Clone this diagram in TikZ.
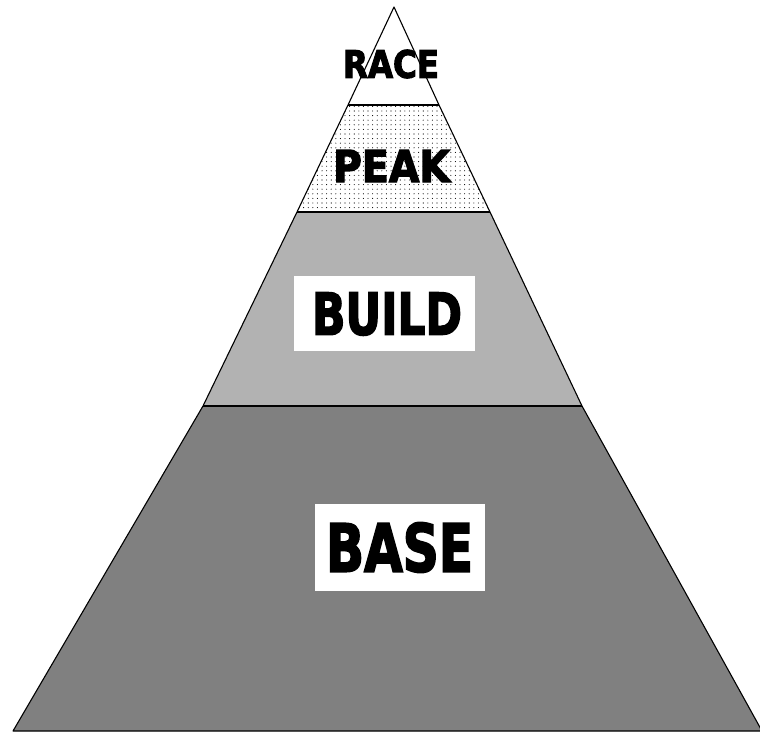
\documentclass[tikz,border=0pt]{standalone}
\usepackage{fontspec}
\usepackage{graphicx}
\usetikzlibrary{patterns.meta}
\newfontfamily\labfont{DejaVu Sans}[BoldFeatures={FakeBold=3}]
\newcommand{\lablbl}[3]{\resizebox{#1}{#2}{\labfont\bfseries #3}}
\begin{document}
\begin{tikzpicture}[x=1pt,y=-1pt,
  edge/.style={draw=black,line width=1.1pt,line join=round},
  basefill/.style={fill=black!50},
  buildfill/.style={fill=black!30},
  peakfill/.style={fill=white,postaction={pattern={Dots[radius=0.55pt,distance=4.6pt]},pattern color=black}},
  racefill/.style={fill=white},
  labbox/.style={fill=white,inner sep=0pt},
  lab/.style={inner sep=0pt,text=black}]
\useasboundingbox (0,0) rectangle (760,732);
\fill[white] (0,0) rectangle (760,732);
% corner coordinates
\coordinate (apex) at (394,7);
\coordinate (rl) at (348,105); \coordinate (rr) at (439,105);
\coordinate (pl) at (297,212); \coordinate (pr) at (490,212);
\coordinate (bl) at (203,406); \coordinate (br) at (582,406);
\coordinate (gl) at (13,731);  \coordinate (gr) at (762,731);
% tiers
\path[basefill]  (bl) -- (br) -- (gr) -- (gl) -- cycle;
\path[buildfill] (pl) -- (pr) -- (br) -- (bl) -- cycle;
\path[peakfill]  (rl) -- (rr) -- (pr) -- (pl) -- cycle;
\path[racefill]  (apex) -- (rr) -- (rl) -- cycle;
% outlines
\draw[edge] (apex) -- (rr) -- (pr) -- (br) -- (gr) -- (gl) -- (bl) -- (pl) -- (rl) -- cycle;
\draw[edge] (rl) -- (rr);
\draw[edge] (pl) -- (pr);
\draw[edge,line width=1.5pt] (bl) -- (br);
% label boxes
\node[labbox,minimum width=181pt,minimum height=75pt] (buildbox) at (384.5,313.5) {};
\node[labbox,minimum width=170pt,minimum height=87pt] (basebox) at (400,547.5) {};
% labels
\node[lab] (race)  at (391,64)    {\lablbl{96pt}{28pt}{RACE}};
\node[lab] (peak)  at (391.5,166) {\lablbl{117pt}{32pt}{PEAK}};
\node[lab] (build) at (387,314)   {\lablbl{150pt}{42pt}{BUILD}};
\node[lab] (base)  at (399.5,547.5) {\lablbl{147pt}{49pt}{BASE}};
\end{tikzpicture}
\end{document}
